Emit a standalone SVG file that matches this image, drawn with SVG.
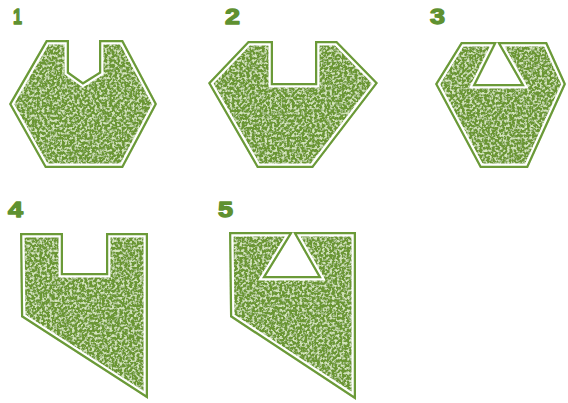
<svg xmlns="http://www.w3.org/2000/svg" xmlns:xlink="http://www.w3.org/1999/xlink" width="568" height="403" viewBox="0 0 568 403">
<style>
.fill{fill:#6a9632;fill-rule:evenodd;filter:url(#tex)}
.gap{fill:none;stroke:#ffffff;stroke-width:9;stroke-linejoin:miter}
.line{fill:none;stroke:#6b9a38;stroke-width:4.5;stroke-linejoin:miter}
.lbl{font-family:"Liberation Sans",Arial,sans-serif;font-weight:bold;font-size:22px;fill:#5f9130;stroke:#5f9130;stroke-width:1.3;stroke-linejoin:round}
</style>
<defs>
<filter id="tex" x="-5%" y="-5%" width="110%" height="110%">
<feTurbulence type="fractalNoise" baseFrequency="0.4" numOctaves="2" seed="7" result="n"/>
<feColorMatrix in="n" type="matrix" values="0 0 0 0 0.66  0 0 0 0 0.78  0 0 0 0 0.50  0 0 0 4 -1.8" result="spk"/>
<feComposite in="spk" in2="SourceGraphic" operator="atop"/>
</filter>
<path id="p1" d="M46,40 L69,40 L69,72 L83,82 L99,72 L99,40 L123,40 L157,104 L123,168 L45,168 L9,104 Z"/>
<path id="p2" d="M248,41 L273,41 L273,83 L315,83 L315,41 L337,41 L378,83 L313,168 L257,168 L208,83 Z"/>
<path id="p3" d="M461,42 L547,42 L566,84 L528,168 L480,168 L435,84 Z M497,42 L521,84 L476,84 Z"/>
<path id="p4" d="M20,233 L63,233 L63,273 L106,273 L106,233 L148,233 L148,399 L21,317 Z"/>
<path id="p5" d="M229,232 L356,232 L356,400 L230,317 Z M293,232 L318,276 L266,276 Z"/>
<clipPath id="c1"><use xlink:href="#p1"/></clipPath>
<clipPath id="c2"><use xlink:href="#p2"/></clipPath>
<clipPath id="c3"><use xlink:href="#p3" clip-rule="evenodd"/></clipPath>
<clipPath id="c4"><use xlink:href="#p4"/></clipPath>
<clipPath id="c5"><use xlink:href="#p5" clip-rule="evenodd"/></clipPath>
</defs>
<rect width="568" height="403" fill="#ffffff"/>
<g id="shape1">
<text class="lbl" x="13" y="24" textLength="9" lengthAdjust="spacingAndGlyphs">1</text>
<g clip-path="url(#c1)"><use xlink:href="#p1" class="fill"/><use xlink:href="#p1" class="gap"/><use xlink:href="#p1" class="line"/></g>
</g>
<g id="shape2">
<text class="lbl" x="225" y="24" textLength="15" lengthAdjust="spacingAndGlyphs">2</text>
<g clip-path="url(#c2)"><use xlink:href="#p2" class="fill"/><use xlink:href="#p2" class="gap"/><use xlink:href="#p2" class="line"/></g>
</g>
<g id="shape3">
<text class="lbl" x="430" y="24" textLength="15" lengthAdjust="spacingAndGlyphs">3</text>
<g clip-path="url(#c3)"><use xlink:href="#p3" class="fill"/><use xlink:href="#p3" class="gap"/><use xlink:href="#p3" class="line"/></g>
</g>
<g id="shape4">
<text class="lbl" x="8" y="217" textLength="15" lengthAdjust="spacingAndGlyphs">4</text>
<g clip-path="url(#c4)"><use xlink:href="#p4" class="fill"/><use xlink:href="#p4" class="gap"/><use xlink:href="#p4" class="line"/></g>
</g>
<g id="shape5">
<text class="lbl" x="218" y="217" textLength="15" lengthAdjust="spacingAndGlyphs">5</text>
<g clip-path="url(#c5)"><use xlink:href="#p5" class="fill"/><use xlink:href="#p5" class="gap"/><use xlink:href="#p5" class="line"/></g>
</g>
<g id="connectors"/>
</svg>
